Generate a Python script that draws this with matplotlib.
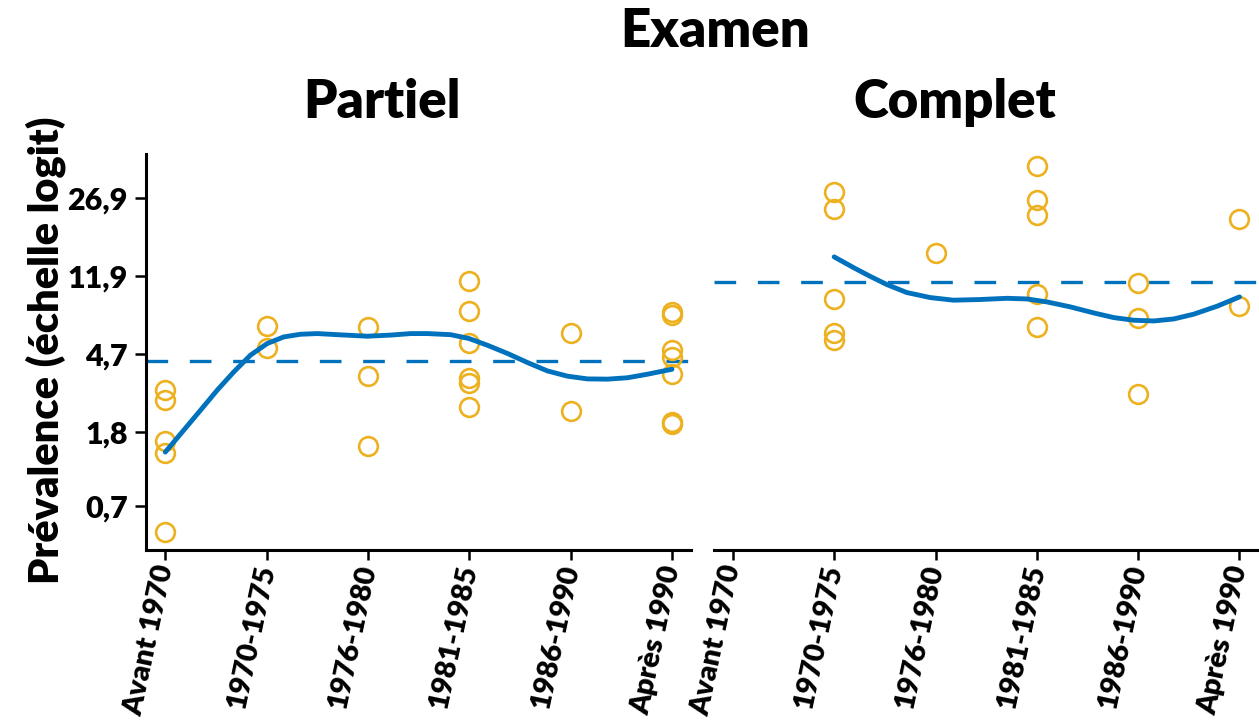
import numpy as np
import matplotlib
matplotlib.use("Agg")
import matplotlib.pyplot as plt
from matplotlib.ticker import NullLocator

# =========================
# DATA
# =========================
periods = ["Avant 1970", "1970-1975", "1976-1980", "1981-1985", "1986-1990", "Après 1990"]
tick_pct = [0.7, 1.8, 4.7, 11.9, 26.9]

# individual studies: period index and prevalence (%)
partiel_period = [0, 0, 0, 0, 0, 1, 1, 2, 2, 2, 3, 3, 3, 3, 3, 3, 4, 4, 5, 5, 5, 5, 5, 5, 5]
partiel_prev = [3.02, 2.67, 1.59, 1.37, 0.50,
                6.64, 5.06,
                6.56, 3.61, 1.51,
                11.2, 7.89, 5.41, 3.50, 3.32, 2.45,
                6.11, 2.34,
                7.85, 7.54, 4.99, 4.56, 3.69, 2.03, 1.98]

complet_period = [1, 1, 1, 1, 1, 2, 3, 3, 3, 3, 3, 4, 4, 4, 5, 5]
complet_prev = [28.3, 24.1, 9.14, 6.11, 5.59,
                15.3,
                35.6, 26.3, 22.7, 9.69, 6.54,
                11.0, 7.31, 2.90,
                21.9, 8.46]

# smoothed trend (period position, prevalence %)
partiel_fit_x = [0.0, 0.181, 0.346, 0.511, 0.675, 0.840, 1.005, 1.169, 1.334, 1.499,
                 1.697, 1.993, 2.223, 2.421, 2.586, 2.816, 2.997, 3.179, 3.377, 3.574,
                 3.772, 3.969, 4.167, 4.365, 4.562, 4.760, 5.0]
partiel_fit_y = [1.39, 1.83, 2.35, 3.02, 3.79, 4.66, 5.37, 5.82, 6.01, 6.06,
                 5.98, 5.87, 5.95, 6.06, 6.06, 5.98, 5.71, 5.26, 4.76, 4.26,
                 3.84, 3.60, 3.48, 3.47, 3.53, 3.69, 3.92]

complet_fit_x = [1.0, 1.189, 1.354, 1.519, 1.716, 1.947, 2.177, 2.441, 2.705, 2.902,
                 3.1, 3.33, 3.56, 3.758, 3.956, 4.153, 4.351, 4.548, 4.780, 5.0]
complet_fit_y = [14.72, 13.09, 11.86, 10.80, 9.85, 9.29, 9.01, 9.08, 9.21, 9.14,
                 8.83, 8.33, 7.76, 7.34, 7.11, 7.05, 7.22, 7.64, 8.40, 9.36]

# pooled prevalence (%)
partiel_pooled = 4.35
complet_pooled = 11.1

BLUE = "#0072BD"
YELLOW = "#EDB120"
WEIGHT = "heavy"

plt.rcParams["font.family"] = ["Lato", "DejaVu Sans"]
plt.rcParams["font.weight"] = WEIGHT

fig = plt.figure(figsize=(12.59, 7.21), dpi=100)
ax_l = fig.add_axes([0.116, 0.237, 0.433, 0.549])
ax_r = fig.add_axes([0.5668, 0.237, 0.433, 0.549])


def draw_panel(ax, period, prev, fit_x, fit_y, pooled):
    ax.set_yscale("logit")
    ax.plot(period, np.array(prev) / 100, "o", ms=13.5, mfc="none", mec=YELLOW, mew=1.9,
            zorder=2)
    ax.plot(fit_x, np.array(fit_y) / 100, color=BLUE, lw=3.5, solid_capstyle="round",
            solid_joinstyle="round", zorder=3)
    ax.axhline(pooled / 100, color=BLUE, lw=2.4, ls=(0, (6.5, 6.5)), zorder=1)

    ax.set_xlim(-0.19, 5.19)
    ax.set_ylim(0.00399, 0.3917)
    ax.set_xticks(range(len(periods)))
    ax.set_xticklabels(periods, rotation=78, ha="right", va="center",
                       rotation_mode="anchor", fontsize=21, fontweight=WEIGHT)
    ax.tick_params(axis="x", length=7, width=1.8, pad=4)
    ax.yaxis.set_minor_locator(NullLocator())
    for side in ["top", "right"]:
        ax.spines[side].set_visible(False)
    for side in ["left", "bottom"]:
        ax.spines[side].set_linewidth(2.2)


draw_panel(ax_l, partiel_period, partiel_prev, partiel_fit_x, partiel_fit_y, partiel_pooled)
draw_panel(ax_r, complet_period, complet_prev, complet_fit_x, complet_fit_y, complet_pooled)

ax_l.set_yticks([p / 100 for p in tick_pct])
ax_l.set_yticklabels([f"{p:.1f}".replace(".", ",") for p in tick_pct],
                     fontsize=22, fontweight=WEIGHT)
ax_l.tick_params(axis="y", length=8, width=1.8, pad=5)

ax_r.spines["left"].set_visible(False)
ax_r.set_yticks([])

fig.text(0.568, 0.935, "Examen", ha="center", va="baseline", fontsize=38, fontweight=WEIGHT)
fig.text(0.303, 0.8363, "Partiel", ha="center", va="baseline", fontsize=38, fontweight=WEIGHT)
fig.text(0.7585, 0.8363, "Complet", ha="center", va="baseline", fontsize=38, fontweight=WEIGHT)
fig.text(0.036, 0.5146, "Prévalence (échelle logit)", rotation=90, ha="center", va="center",
         fontsize=30, fontweight=WEIGHT)

fig.savefig("out.png", dpi=100)
